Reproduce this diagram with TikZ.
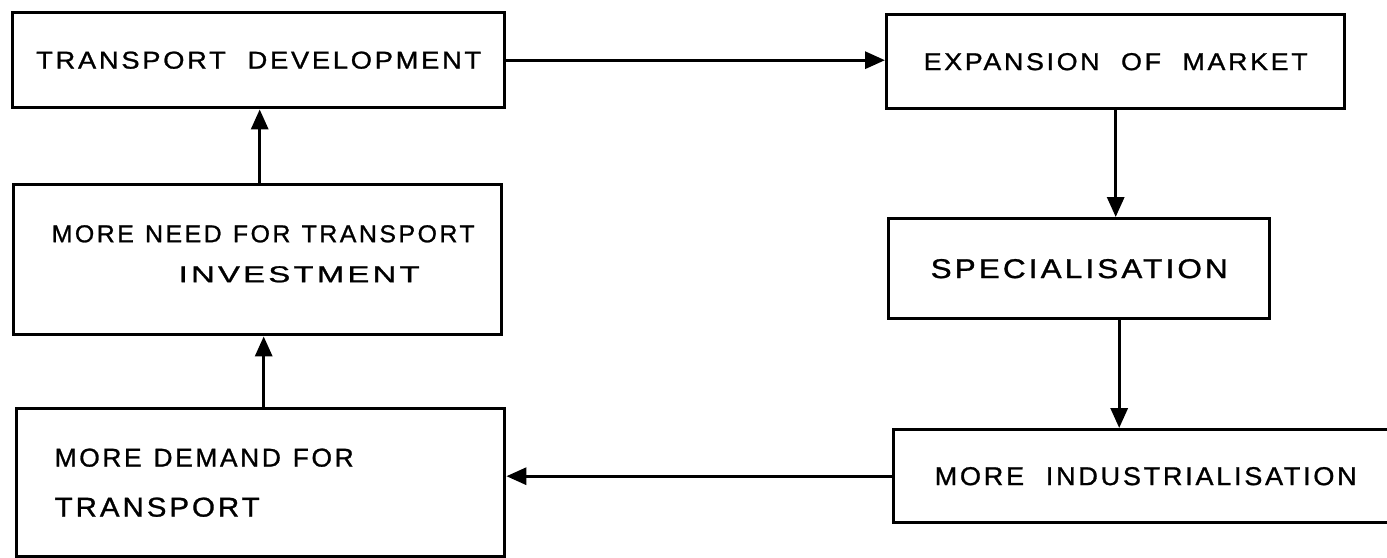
\documentclass[tikz,border=0pt]{standalone}
\usepackage{fontspec}
\usepackage{graphicx}
\usetikzlibrary{arrows.meta,calc}
\newfontfamily\handfont[LetterSpace=10,FakeBold=1]{Liberation Sans}
\newcommand{\hw}[3]{\resizebox{#1pt}{#2pt}{\handfont\fontsize{24}{28}\selectfont #3}}
\newcommand{\wsp}{\hspace{0.45em}}
\newcommand{\wwsp}{\hspace{0.8em}}
\begin{document}
\begin{tikzpicture}[x=1pt,y=-1pt,
  box/.style={draw, line width=3.4pt, inner sep=0pt, anchor=north west},
  arr/.style={line width=3.2pt, -{Triangle[length=20pt,width=17pt]}}]
\useasboundingbox (0,0) rectangle (1387,557);
\clip (0,0) rectangle (1387,557);
\fill[white] (0,0) rectangle (1387,557);

\node[box, minimum width=492pt, minimum height=95pt] (TD) at (11,11)
  {\hw{445}{17}{TRANSPORT\wwsp DEVELOPMENT}};
\node[box, minimum width=458pt, minimum height=94pt] (EM) at (885,13)
  {\hw{384}{17}{EXPANSION\wwsp OF\wwsp MARKET}};
\node[box, minimum width=381pt, minimum height=100pt] (Spec) at (887,217)
  {\hw{297}{19}{SPECIALISATION}};
\node[box, minimum width=504pt, minimum height=93pt] (MI) at (892,428)
  {\hw{422}{18}{MORE\wwsp INDUSTRIALISATION}};
\node[box, minimum height=148pt, inner xsep=38pt, text width=412pt, align=left,
  font=\fontsize{10}{50}\selectfont] (MDT) at (15,407)
  {\hw{299}{18}{MORE\wsp DEMAND\wsp FOR}\\\hw{205}{19}{TRANSPORT}};
\node[box, minimum height=150pt, inner xsep=38pt, text width=412pt, align=left,
  font=\fontsize{10}{40}\selectfont] (MNT) at (12,183)
  {\hw{423}{17}{MORE\wsp NEED\wsp FOR\wsp TRANSPORT}\\\hspace*{127pt}\hw{241}{16}{INVESTMENT}\rule[-12pt]{0pt}{12pt}};

\draw[arr] (TD.east) -- (TD.east -| EM.west);
\draw[arr] (EM.south) -- (EM.south |- Spec.north);
\draw[arr] ([xshift=40pt]Spec.south) -- ([xshift=40pt]Spec.south |- MI.north);
\draw[arr] (MI.west) -- (MI.west -| MDT.east);
\draw[arr] ([xshift=3pt]MDT.north) -- ([xshift=3pt]MDT.north |- MNT.south);
\draw[arr] ([xshift=2pt]MNT.north) -- ([xshift=2pt]MNT.north |- TD.south);
\end{tikzpicture}
\end{document}
